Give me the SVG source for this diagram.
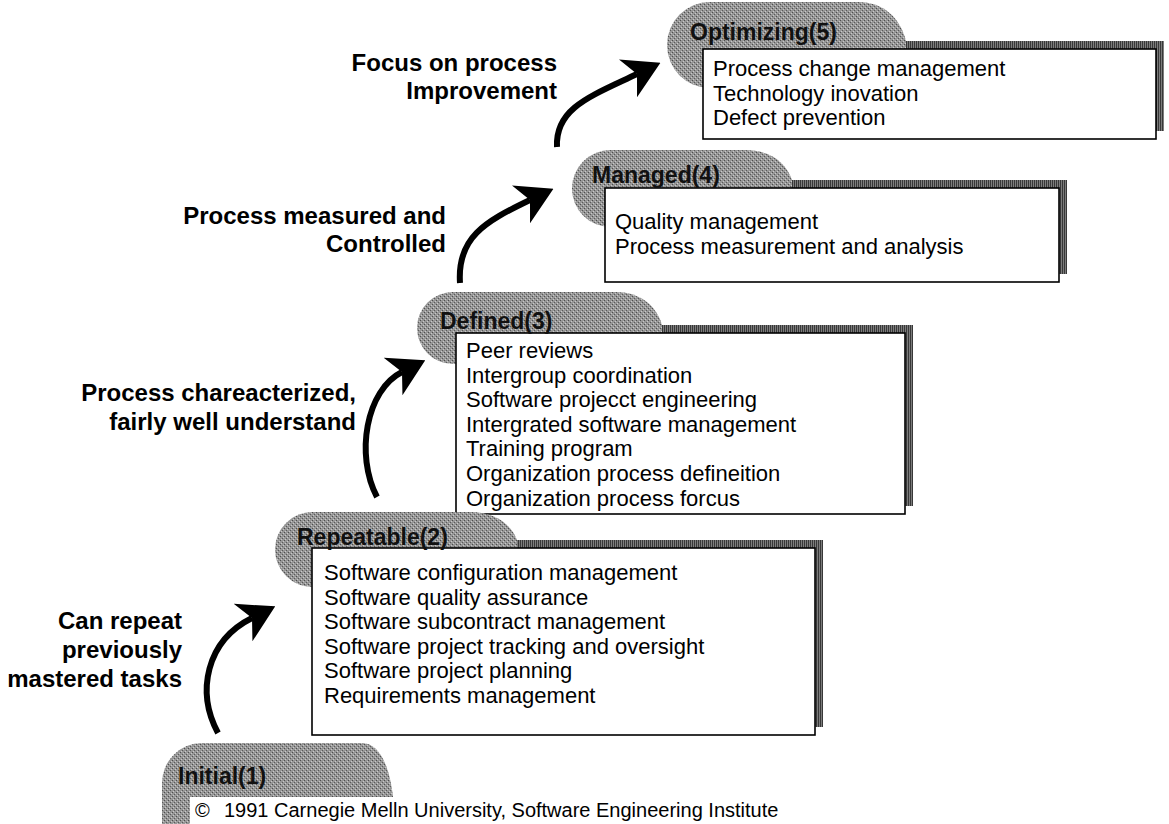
<svg xmlns="http://www.w3.org/2000/svg" width="1169" height="824" viewBox="0 0 1169 824">
<style>
.lbl{font-family:"Liberation Sans",Arial,Helvetica,sans-serif;font-weight:bold;font-size:24px;fill:#000;text-anchor:end}
.tabt{font-family:"Liberation Sans",Arial,Helvetica,sans-serif;font-weight:bold;font-size:23px;fill:#111}
.item{font-family:"Liberation Sans",Arial,Helvetica,sans-serif;font-size:22px;fill:#000}
.copy{font-family:"Liberation Sans",Arial,Helvetica,sans-serif;font-size:20px;fill:#000}
.box{fill:#fff;stroke:#000;stroke-width:1.6}
.tab{fill:url(#stip)}
.shd{fill:url(#shd)}
.arr{fill:none;stroke:#000;stroke-width:6;marker-end:url(#head)}
</style>
<defs>
<pattern id="stip" width="4" height="4" patternUnits="userSpaceOnUse">
<rect width="4" height="4" fill="#969696"/>
<rect x="0" y="0" width="1" height="1" fill="#4e4e4e"/>
<rect x="2" y="2" width="1" height="1" fill="#5a5a5a"/>
<rect x="1" y="3" width="1" height="1" fill="#cacaca"/>
<rect x="3" y="1" width="1" height="1" fill="#c8c8c8"/>
</pattern>
<pattern id="shd" width="2" height="2" patternUnits="userSpaceOnUse">
<rect width="2" height="2" fill="#7c7c7c"/>
<rect x="0" width="1" height="2" fill="#383838"/>
</pattern>
<marker id="head" viewBox="0 0 36 42" markerWidth="36" markerHeight="42" markerUnits="userSpaceOnUse" refX="10" refY="21" orient="auto">
<path d="M36,21 L0,0 L10,21 L0,42 Z" fill="#000"/>
</marker>
</defs>
<rect width="1169" height="824" fill="#fff"/>

<g id="optimizing">
<rect class="shd" x="711" y="41" width="453" height="90"/>
<path class="tab" d="M710,2 H858 C884,2 900,18 906,41 L906,88 L710,88 A43,43 0 0 1 710,2 Z"/>
<rect class="box" x="703" y="49" width="453" height="90"/>
<text class="tabt" x="690" y="40">Optimizing(5)</text>
<text class="item" x="713" y="76">Process change management</text>
<text class="item" x="713" y="100.6">Technology inovation</text>
<text class="item" x="713" y="125.2">Defect prevention</text>
</g>

<g id="managed">
<rect class="shd" x="613" y="180" width="454" height="94"/>
<path class="tab" d="M610.5,150 H745 C770,150 786,162 792,180 L792,227 L610.5,227 A38.5,38.5 0 0 1 610.5,150 Z"/>
<rect class="box" x="605" y="188" width="454" height="94"/>
<text class="tabt" x="592" y="183">Managed(4)</text>
<text class="item" x="615" y="229">Quality management</text>
<text class="item" x="615" y="253.6">Process measurement and analysis</text>
</g>

<g id="defined">
<rect class="shd" x="464" y="325" width="449" height="181"/>
<path class="tab" d="M453,292 H615 C640,292 656,305 662,325 L662,364 L453,364 A36,36 0 0 1 453,292 Z"/>
<rect class="box" x="456" y="333" width="449" height="181"/>
<text class="tabt" x="440" y="329">Defined(3)</text>
<text class="item" x="466" y="358">Peer reviews</text>
<text class="item" x="466" y="382.6">Intergroup coordination</text>
<text class="item" x="466" y="407.2">Software projecct engineering</text>
<text class="item" x="466" y="431.8">Intergrated software management</text>
<text class="item" x="466" y="456.4">Training program</text>
<text class="item" x="466" y="481">Organization process defineition</text>
<text class="item" x="466" y="505.6">Organization process forcus</text>
</g>

<g id="repeatable">
<rect class="shd" x="320" y="540" width="503" height="187"/>
<path class="tab" d="M312.5,512 H470 C495,512 511,524 517,540 L517,587 L312.5,587 A37.5,37.5 0 0 1 312.5,512 Z"/>
<rect class="box" x="312" y="548" width="503" height="187"/>
<text class="tabt" x="297" y="545">Repeatable(2)</text>
<text class="item" x="324" y="580">Software configuration management</text>
<text class="item" x="324" y="604.6">Software quality assurance</text>
<text class="item" x="324" y="629.2">Software subcontract management</text>
<text class="item" x="324" y="653.8">Software project tracking and oversight</text>
<text class="item" x="324" y="678.4">Software project planning</text>
<text class="item" x="324" y="703">Requirements management</text>
</g>

<g id="initial">
<path class="tab" d="M202,743 H362 C381,743 390,770 393,797 L393,824 L162,824 L162,783 A40,40 0 0 1 202,743 Z"/>
<rect x="190" y="797" width="979" height="27" fill="#fff"/>
<text class="tabt" x="178" y="784">Initial(1)</text>
<text class="copy" x="195" y="817">©<tspan x="224">1991 Carnegie Melln University, Software Engineering Institute</tspan></text>
</g>

<g id="labels">
<text class="lbl" x="557" y="71">Focus on process</text>
<text class="lbl" x="557" y="99">Improvement</text>
<text class="lbl" x="446" y="224">Process measured and</text>
<text class="lbl" x="446" y="252">Controlled</text>
<text class="lbl" x="356" y="401">Process chareacterized,</text>
<text class="lbl" x="356" y="430">fairly well understand</text>
<text class="lbl" x="182" y="629">Can repeat</text>
<text class="lbl" x="182" y="658">previously</text>
<text class="lbl" x="182" y="687">mastered tasks</text>
</g>

<g id="connectors">
<path class="arr" d="M218,733 C196,692 206,641 252,618"/>
<path class="arr" d="M377,497 C355,455 366,390 402,372"/>
<path class="arr" d="M460,283 C457,238 484,222 530,200"/>
<path class="arr" d="M557,147 C555,108 591,96 637,74"/>
</g>
</svg>
